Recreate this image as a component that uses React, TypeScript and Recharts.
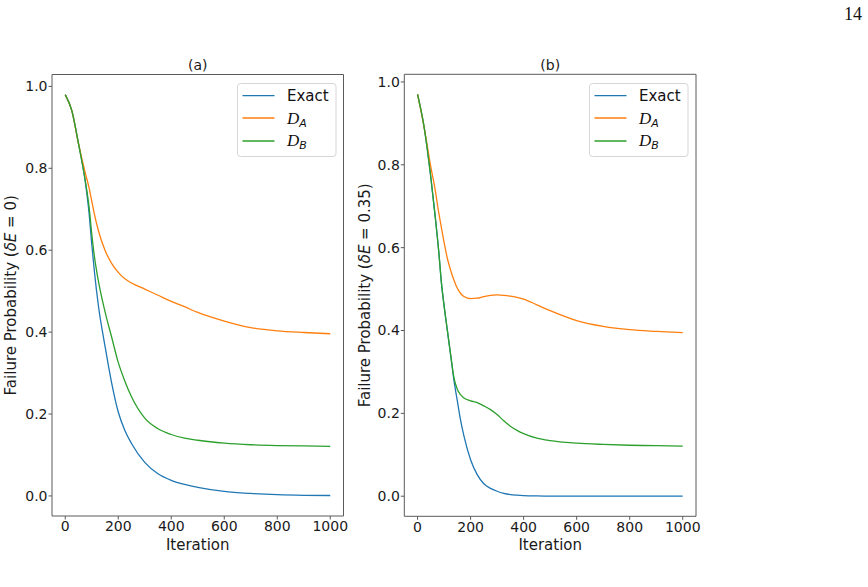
import { LineChart, Line, XAxis, YAxis, Legend, ReferenceLine } from 'recharts'

// panel (a): delta E = 0
const ITER_A = [0, 25, 50, 75, 90, 100, 110, 125, 150, 175, 200, 225, 250, 300, 350, 400, 450, 500, 600, 700, 800, 900, 1000]
const EXACT_A = [0.98, 0.94, 0.86, 0.77, 0.69, 0.615, 0.548, 0.465, 0.366, 0.276, 0.205, 0.16, 0.128, 0.082, 0.054, 0.038, 0.028, 0.021, 0.011, 0.006, 0.003, 0.0015, 0.001]
const DA_A = [0.98, 0.94, 0.86, 0.79, 0.752, 0.72, 0.688, 0.648, 0.6, 0.568, 0.546, 0.53, 0.52, 0.505, 0.49, 0.475, 0.462, 0.448, 0.427, 0.411, 0.403, 0.399, 0.396]
const DB_A = [0.98, 0.94, 0.86, 0.772, 0.705, 0.64, 0.585, 0.525, 0.45, 0.388, 0.326, 0.28, 0.242, 0.19, 0.164, 0.15, 0.141, 0.136, 0.129, 0.125, 0.123, 0.122, 0.121]

// panel (b): delta E = 0.35
const ITER_B = [0, 25, 50, 65, 80, 90, 100, 112, 125, 137, 150, 162, 175, 200, 225, 250, 275, 300, 325, 350, 375, 400, 450, 500, 600, 700, 800, 900, 1000]
const EXACT_B = [0.97, 0.89, 0.77, 0.684, 0.59, 0.515, 0.46, 0.402, 0.34, 0.281, 0.23, 0.184, 0.145, 0.088, 0.052, 0.03, 0.019, 0.012, 0.007, 0.004, 0.0025, 0.0015, 0.0006, 0.0003, 0, 0, 0, 0, 0]
const DA_B = [0.97, 0.89, 0.795, 0.745, 0.684, 0.648, 0.613, 0.575, 0.545, 0.522, 0.502, 0.49, 0.482, 0.477, 0.478, 0.482, 0.485, 0.486, 0.485, 0.483, 0.48, 0.476, 0.462, 0.448, 0.424, 0.41, 0.402, 0.398, 0.395]
const DB_B = [0.97, 0.89, 0.77, 0.684, 0.59, 0.515, 0.46, 0.402, 0.34, 0.287, 0.258, 0.245, 0.237, 0.23, 0.226, 0.218, 0.209, 0.197, 0.182, 0.169, 0.159, 0.151, 0.14, 0.134, 0.128, 0.125, 0.123, 0.122, 0.121]

const X_TICKS = [0, 200, 400, 600, 800, 1000]
const Y_TICKS = [0, 0.2, 0.4, 0.6, 0.8, 1.0]

const BLUE = '#1f77b4'
const ORANGE = '#ff7f0e'
const GREEN = '#2ca02c'
const SPINE = '#5a5a5a'
const FONT = '"DejaVu Sans", sans-serif'
const MATH = '"Liberation Serif", serif'

function rows(iter: number[], exact: number[], dA: number[], dB: number[]) {
  return iter.map((it, i) => ({ iter: it, exact: exact[i], dA: dA[i], dB: dB[i] }))
}

function MplLegend() {
  const items = [
    { color: BLUE, key: 'exact', y: 12.6 },
    { color: ORANGE, key: 'dA', y: 35 },
    { color: GREEN, key: 'dB', y: 58 },
  ]
  return (
    <svg width={100} height={75} style={{ display: 'block' }}>
      <rect x={0.5} y={0.5} width={98.5} height={73} rx={3} fill="#fff" fillOpacity={0.8} stroke="#d6d6d6" />
      {items.map((it) => (
        <line key={it.key} x1={5.5} x2={37.5} y1={it.y} y2={it.y} stroke={it.color} strokeWidth={1.3} />
      ))}
      <text x={50} y={18.2} fontSize={15} fontFamily={FONT} fill="#111">Exact</text>
      <text x={50} y={40.5} fontSize={17} fontFamily={MATH} fontStyle="italic" fill="#111">
        <tspan>D</tspan>
        <tspan dy={3} fontSize={11} fontFamily={FONT}>A</tspan>
      </text>
      <text x={50} y={63} fontSize={17} fontFamily={MATH} fontStyle="italic" fill="#111">
        <tspan>D</tspan>
        <tspan dy={3} fontSize={11} fontFamily={FONT}>B</tspan>
      </text>
    </svg>
  )
}

interface PanelProps {
  data: { iter: number; exact: number; dA: number; dB: number }[]
  yDomain: [number, number]
  width: number
  margin: { top: number; right: number; bottom: number; left: number }
  legendLeft: number
  legendTop: number
}

function Panel({ data, yDomain, width, margin, legendLeft, legendTop }: PanelProps) {
  const tickStyle = { fontSize: 14, fontFamily: FONT, fill: '#1a1a1a' }
  return (
    <LineChart width={width} height={587} data={data} margin={margin}>
      <XAxis
        dataKey="iter"
        type="number"
        domain={[-50, 1050]}
        ticks={X_TICKS}
        allowDataOverflow
        height={30}
        tickSize={3.5}
        tickMargin={2}
        stroke={SPINE}
        tick={tickStyle}
      />
      <YAxis
        type="number"
        domain={yDomain}
        ticks={Y_TICKS}
        allowDataOverflow
        width={40}
        tickSize={3.5}
        tickMargin={1}
        stroke={SPINE}
        tick={tickStyle}
        tickFormatter={(v: number) => v.toFixed(1)}
      />
      <ReferenceLine y={yDomain[1]} stroke={SPINE} strokeWidth={1} />
      <ReferenceLine x={1050} stroke={SPINE} strokeWidth={1} />
      <Line dataKey="exact" stroke={BLUE} strokeWidth={1.3} dot={false} type="monotone" isAnimationActive={false} />
      <Line dataKey="dA" stroke={ORANGE} strokeWidth={1.3} dot={false} type="monotone" isAnimationActive={false} />
      <Line dataKey="dB" stroke={GREEN} strokeWidth={1.3} dot={false} type="monotone" isAnimationActive={false} />
      <Legend
        layout="horizontal"
        verticalAlign="middle"
        align="center"
        content={() => <MplLegend />}
        wrapperStyle={{ left: legendLeft, top: legendTop, width: 100, height: 75 }}
      />
    </LineChart>
  )
}

export default function App() {
  const labelStyle = { fontSize: 15, fontFamily: FONT, fill: '#1a1a1a' }
  return (
    <div style={{ position: 'absolute', left: 0, top: 0, width: 868, height: 587, background: '#fff' }}>
      <div style={{ position: 'absolute', left: 0, top: 0 }}>
        <Panel
          data={rows(ITER_A, EXACT_A, DA_A, DB_A)}
          yDomain={[-0.049, 1.029]}
          width={350}
          margin={{ top: 74.5, right: 6.5, bottom: 41, left: 12 }}
          legendLeft={236.5}
          legendTop={82.5}
        />
      </div>
      <div style={{ position: 'absolute', left: 350, top: 0 }}>
        <Panel
          data={rows(ITER_B, EXACT_B, DA_B, DB_B)}
          yDomain={[-0.0485, 1.0185]}
          width={518}
          margin={{ top: 74.3, right: 172, bottom: 40.7, left: 14.3 }}
          legendLeft={239.3}
          legendTop={83.2}
        />
      </div>
      <svg width={868} height={587} style={{ position: 'absolute', left: 0, top: 0, pointerEvents: 'none' }}>
        <text x={862} y={20} textAnchor="end" fontSize={18} fontFamily={MATH} fill="#111">14</text>
        <text x={197.75} y={70} textAnchor="middle" fontSize={14} fontFamily={FONT} fill="#1a1a1a">(a)</text>
        <text x={550.2} y={70} textAnchor="middle" fontSize={14} fontFamily={FONT} fill="#1a1a1a">(b)</text>
        <text x={197.75} y={550} textAnchor="middle" {...labelStyle}>Iteration</text>
        <text x={550.2} y={550} textAnchor="middle" {...labelStyle}>Iteration</text>
        <text transform="translate(16,295.3) rotate(-90)" textAnchor="middle" {...labelStyle}>
          Failure Probability (<tspan fontStyle="italic">δE</tspan> = 0)
        </text>
        <text transform="translate(369.5,295.3) rotate(-90)" textAnchor="middle" {...labelStyle}>
          Failure Probability (<tspan fontStyle="italic">δE</tspan> = 0.35)
        </text>
      </svg>
    </div>
  )
}
